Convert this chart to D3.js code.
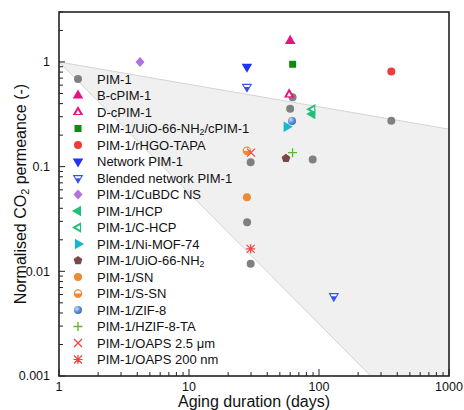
<!DOCTYPE html>
<html><head><meta charset="utf-8">
<script src="https://cdn.jsdelivr.net/npm/d3@7"></script>
<style>body{margin:0;background:#fff;} svg{display:block;font-family:Arial,"Liberation Sans",sans-serif;}</style>
</head><body><svg id="c" width="464" height="410"></svg>
<script>
// ---- data ----
const seriesNames = ["PIM-1","B-cPIM-1","D-cPIM-1","PIM-1/UiO-66-NH2/cPIM-1","PIM-1/rHGO-TAPA","Network PIM-1","Blended network PIM-1","PIM-1/CuBDC NS","PIM-1/HCP","PIM-1/C-HCP","PIM-1/Ni-MOF-74","PIM-1/UiO-66-NH2","PIM-1/SN","PIM-1/S-SN","PIM-1/ZIF-8","PIM-1/HZIF-8-TA","PIM-1/OAPS 2.5 μm","PIM-1/OAPS 200 nm"];
const seriesX = [
  [62.6, 60, 360, 29.8, 89.4, 28, 29.8],
  [60],
  [59],
  [62.7],
  [360],
  [27.9],
  [27.9, 130],
  [4.2],
  [88.8],
  [88.8],
  [56.4],
  [55.7],
  [27.9],
  [27.9],
  [62],
  [62.6],
  [30],
  [29.8]
];
const seriesY = [
  [0.46, 0.358, 0.275, 0.110, 0.117, 0.0294, 0.0118],
  [1.59],
  [0.49],
  [0.95],
  [0.81],
  [0.90],
  [0.58, 0.0058],
  [1.0],
  [0.319],
  [0.353],
  [0.241],
  [0.12],
  [0.051],
  [0.142],
  [0.273],
  [0.136],
  [0.136],
  [0.0164]
];
const seriesColors = ["#808080","#e8137f","#e8137f","#0f8c10","#f03c3c","#1c35f5","#3550f2","#b070e0","#20c07a","#20c07a","#12b9c9","#7a4848","#f08a30","#f08a30","#5b8fd6","#5ab82a","#f04545","#f04545"];
const seriesMarkers = ["circle","triUp","triUpOpen","square","circle","triDown","triDownHalf","diamond","triLeft","triLeftOpen","triRight","pentagon","circle","halfCircle","ball","plus","cross","asterisk"];
const xTicks = [1, 10, 100, 1000];
const xTickLabels = ["1","10","100","1000"];
const yTicks = [0.001, 0.01, 0.1, 1];
const yTickLabels = ["0.001","0.01","0.1","1"];
const bandUpper = [[1, 1], [1000, 0.228]];
const bandLower = [[1, 1], [250, 0.001]];

// ---- layout ----
const svg = d3.select("#c");
const L = 59, R = 449, T = 12, B = 376;
const x = d3.scaleLog().domain([1, 1000]).range([L, R]);
const y = d3.scaleLog().domain([0.001, 3]).range([B, T]);

// shaded region
const poly = [bandUpper[0], bandUpper[1], [1000, 0.001], bandLower[1], bandLower[0]];
svg.append("path")
  .attr("d", d3.line().x(d => x(d[0])).y(d => y(d[1]))(poly) + "Z")
  .attr("fill", "#f0f0f0").attr("stroke", "none");
[bandUpper, bandLower].forEach(seg => {
  svg.append("path").attr("d", d3.line().x(d => x(d[0])).y(d => y(d[1]))(seg))
    .attr("stroke", "#d4d4d4").attr("stroke-width", 1).attr("fill", "none");
});

// marker drawing
const defs = svg.append("defs");
const grad = defs.append("radialGradient").attr("id", "ballg").attr("cx", "35%").attr("cy", "35%").attr("r", "65%");
grad.append("stop").attr("offset", "0%").attr("stop-color", "#cfe0f5");
grad.append("stop").attr("offset", "60%").attr("stop-color", "#5b8fd6");
grad.append("stop").attr("offset", "100%").attr("stop-color", "#3f74bf");

function tri(size, rot, g, fill) {
  return g.append("path").attr("d", d3.symbol(d3.symbolTriangle, size)())
    .attr("transform", `rotate(${rot})`).attr("fill", fill);
}
function drawMarker(g, type, color) {
  switch (type) {
    case "circle":
      g.append("circle").attr("r", 4).attr("fill", color); break;
    case "triUp": tri(48, 0, g, color); break;
    case "triUpOpen": tri(48, 0, g, color); tri(9, 0, g, "#fff").attr("transform", "translate(0,0.6)"); break;
    case "square":
      g.append("rect").attr("x", -3.5).attr("y", -3.5).attr("width", 7).attr("height", 7).attr("fill", color); break;
    case "triDown": tri(48, 180, g, color); break;
    case "triDownHalf":
      tri(48, 180, g, color);
      g.append("path").attr("d", "M-3.3,-1.8L3.3,-1.8L2.2,0.2L-2.2,0.2Z").attr("fill", "#fff");
      break;
    case "diamond":
      g.append("path").attr("d", "M0,-5L4.5,0L0,5L-4.5,0Z").attr("fill", color); break;
    case "triLeft": tri(48, -90, g, color); break;
    case "triLeftOpen": tri(48, -90, g, color); tri(9, -90, g, "#fff").attr("transform", "translate(0.6,0) rotate(-90)"); break;
    case "triRight": tri(48, 90, g, color); break;
    case "pentagon": {
      const pts = d3.range(5).map(i => { const a = -Math.PI / 2 + i * 2 * Math.PI / 5; return [4.6 * Math.cos(a), 4.6 * Math.sin(a)]; });
      g.append("path").attr("d", "M" + pts.join("L") + "Z").attr("fill", color); break;
    }
    case "halfCircle":
      g.append("circle").attr("r", 3.6).attr("fill", "#fff").attr("stroke", color).attr("stroke-width", 1.2);
      g.append("path").attr("d", "M-4.2,0A4.2,4.2 0 0 0 4.2,0Z").attr("fill", color);
      break;
    case "ball":
      g.append("circle").attr("r", 4).attr("fill", "url(#ballg)"); break;
    case "plus":
      g.append("path").attr("d", "M-4.5,0H4.5M0,-4.5V4.5").attr("stroke", color).attr("stroke-width", 1.3).attr("fill", "none"); break;
    case "cross":
      g.append("path").attr("d", "M-4,-4L4,4M-4,4L4,-4").attr("stroke", color).attr("stroke-width", 1.3).attr("fill", "none"); break;
    case "asterisk":
      g.append("path").attr("d", "M-4,-4L4,4M-4,4L4,-4M-4.5,0H4.5M0,-4.5V4.5").attr("stroke", color).attr("stroke-width", 1.2).attr("fill", "none"); break;
  }
}

// data points
seriesNames.forEach((name, i) => {
  seriesX[i].forEach((xv, j) => {
    const g = svg.append("g").attr("transform", `translate(${x(xv)},${y(seriesY[i][j])})`);
    drawMarker(g, seriesMarkers[i], seriesColors[i]);
  });
});

// legend
const legX = 78, legTX = 97, legY0 = 79, legDY = 16.5;
function addLabel(t, label, fs) {
  const parts = label.split(/(NH2|CO2)/);
  parts.forEach(p => {
    if (p === "NH2" || p === "CO2") {
      t.append("tspan").text(p.slice(0, 2));
      t.append("tspan").text("2").attr("font-size", fs * 0.68).attr("baseline-shift", "-25%");
    } else if (p.length) {
      t.append("tspan").text(p);
    }
  });
}
seriesNames.forEach((name, i) => {
  const yy = legY0 + i * legDY;
  const g = svg.append("g").attr("transform", `translate(${legX},${yy})`);
  drawMarker(g, seriesMarkers[i], seriesColors[i]);
  const t = svg.append("text").attr("x", legTX).attr("y", yy).attr("dy", "0.36em")
    .attr("font-size", 13).attr("fill", "#111");
  addLabel(t, name, 13);
});

// axes ticks (inward)
const tickG = svg.append("g").attr("stroke", "#222").attr("stroke-width", 1);
const minorX = [];
[1, 10, 100].forEach(d => { for (let k = 2; k <= 9; k++) minorX.push(d * k); });
minorX.forEach(v => tickG.append("line").attr("x1", x(v)).attr("x2", x(v)).attr("y1", B).attr("y2", B - 4));
xTicks.forEach(v => tickG.append("line").attr("x1", x(v)).attr("x2", x(v)).attr("y1", B).attr("y2", B - 7));
const minorY = [];
[0.001, 0.01, 0.1, 1].forEach(d => { for (let k = 2; k <= 9; k++) { const v = d * k; if (v <= 3) minorY.push(v); } });
minorY.forEach(v => tickG.append("line").attr("y1", y(v)).attr("y2", y(v)).attr("x1", L).attr("x2", L + 4));
yTicks.forEach(v => tickG.append("line").attr("y1", y(v)).attr("y2", y(v)).attr("x1", L).attr("x2", L + 6));

// frame
svg.append("rect").attr("x", L).attr("y", T).attr("width", R - L).attr("height", B - T)
  .attr("fill", "none").attr("stroke", "#222").attr("stroke-width", 1.6);

// tick labels
xTicks.forEach((v, i) => svg.append("text").attr("x", x(v)).attr("y", 391).attr("text-anchor", "middle")
  .attr("font-size", 12.5).attr("fill", "#111").text(xTickLabels[i]));
yTicks.forEach((v, i) => svg.append("text").attr("x", 50).attr("y", y(v)).attr("dy", "0.35em").attr("text-anchor", "end")
  .attr("font-size", 12.5).attr("fill", "#111").text(yTickLabels[i]));

// axis titles
svg.append("text").attr("x", 254).attr("y", 407).attr("text-anchor", "middle").attr("font-size", 16).attr("fill", "#111")
  .text("Aging duration (days)");
const yl = svg.append("text").attr("transform", "translate(26,194) rotate(-90)").attr("text-anchor", "middle")
  .attr("font-size", 16).attr("fill", "#111");
addLabel(yl, "Normalised CO2 permeance (-)", 16);
</script>
</body></html>
